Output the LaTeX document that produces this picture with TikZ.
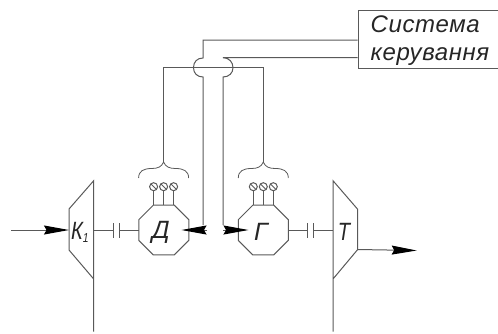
\documentclass[tikz,border=0pt]{standalone}
\usepackage{fontspec}
\setmainfont{Liberation Sans}
\newfontfamily\boxfont[LetterSpace=2.5]{Liberation Sans}
\usetikzlibrary{arrows.meta, shapes.geometric}
\definecolor{linegray}{gray}{0.35}
\tikzset{
  wire/.style={draw=linegray, line width=1pt},
  flow/.style={wire, -{Stealth[length=25pt, width=9pt, inset=2.5pt, black]}},
  octa/.style={wire, regular polygon, regular polygon sides=8, minimum size=54.1pt, inner sep=0pt, outer sep=0pt},
  lett/.style={inner sep=0pt, font=\itshape\fontsize{25}{25}\selectfont, text=black!85},
  boxtext/.style={anchor=base west, inner sep=0pt, text=black!85, font=\boxfont\itshape\fontsize{24}{24}\selectfont},
  term/.style={wire, circle, minimum size=8pt, inner sep=0pt, outer sep=0pt, path picture={\draw[linegray, line width=0.9pt] (path picture bounding box.north west) -- (path picture bounding box.south east);}}
}
\begin{document}
\begin{tikzpicture}[x=1pt, y=-1pt]
  \useasboundingbox (0, 0) rectangle (498, 333);
  % control box
  \node (sys) [wire, anchor=north west, minimum width=145pt, minimum height=58.5pt, inner sep=0pt] at (357.5, 9.5) {};
  \node (sysa) [boxtext] at (370.5, 32) {Система};
  \node (sysb) [boxtext] at (370.5, 60) {керування};
  % machines
  \node (d) [octa] at (163.8, 230) {};
  \node (g) [octa] at (263.3, 230) {};
  \node (dl) [lett] at (161, 232) {Д};
  \node (gl) [lett] at (261, 232) {Г};
  \node (kl) [lett, anchor=west, xscale=0.8] at (71, 232) {К\raisebox{-3pt}{\fontsize{13}{13}\selectfont 1}};
  \node (tl) [lett, xscale=0.8] at (344, 232) {Т};
  % compressor and turbine
  \coordinate (kin) at (69, 230);
  \coordinate (kout) at (93.7, 230);
  \coordinate (tin) at (333, 230);
  \coordinate (tout) at (357.7, 249.5);
  \draw [wire] (93.7, 331.7) -- (93.7, 180.7) -- (69, 209) -- (69, 250) -- (93.7, 279);
  \draw [wire] (333, 331.7) -- (333, 180.7) -- (357.7, 209.3) -- (357.7, 249.5) -- (333, 279);
  % shafts with couplings
  \coordinate (ka) at (113.3, 230);
  \coordinate (kb) at (119, 230);
  \coordinate (ta) at (307.7, 230);
  \coordinate (tb) at (313.7, 230);
  \draw [wire] (kout) -- (ka) (kb) -- (d.west |- kb);
  \draw [wire] (g.east |- ta) -- (ta) (tb) -- (tin);
  \foreach \c in {ka, kb, ta, tb}
    \draw [wire] ([yshift=-7.5pt]\c) -- ([yshift=7.5pt]\c);
  % terminals and braces
  \foreach \m/\cx in {d/163.6, g/263.3} {
    \foreach \i/\dx in {1/-10, 2/0, 3/10} {
      \node (\m\i) [term] at (\cx+\dx, 186.7) {};
      \draw [wire] (\m\i) -- (\cx+\dx, 205);
    }
    \coordinate (\m top) at (\cx, 162);
    \draw [wire, line width=0.8pt] (\cx-25, 178) .. controls (\cx-25, 171) and (\cx-20, 168.5) .. (\cx-12, 168.5)
      .. controls (\cx-6, 168.5) and (\cx-2, 167) .. (\m top)
      .. controls (\cx+2, 167) and (\cx+6, 168.5) .. (\cx+12, 168.5)
      .. controls (\cx+20, 168.5) and (\cx+25, 171) .. (\cx+25, 178);
  }
  % control lines
  \coordinate (bl) at (163.6, 67.7);
  \coordinate (br) at (263.3, 67.7);
  \draw [wire] (dtop) -- (bl) -- (br) -- (gtop);
  \draw [wire] (sys.west |- 0, 40) -- (203, 40) -- (203, 58)
    .. controls (197, 58) and (193.5, 62) .. (193.5, 67.7)
    .. controls (193.5, 73) and (197, 77) .. (203, 77) -- (203, 225);
  \draw [wire] (sys.west |- 0, 57.7) -- (223, 57.7)
    .. controls (229, 57.7) and (233, 62) .. (233, 67.7)
    .. controls (233, 73) and (229, 77) .. (223, 77) -- (223, 225);
  % arrows
  \coordinate (ain) at (11, 230);
  \coordinate (dtail) at (207, 230);
  \coordinate (dtip) at (181.5, 230);
  \coordinate (gtail) at (223, 230);
  \coordinate (gtip) at (248.5, 230);
  \coordinate (tend) at (416.7, 250.5);
  \draw [flow] (ain) -- (kin);
  \draw [flow] (dtail) -- (dtip);
  \draw [flow] (gtail) -- (gtip);
  \draw [flow] (tout) -- (tend);
\end{tikzpicture}
\end{document}
